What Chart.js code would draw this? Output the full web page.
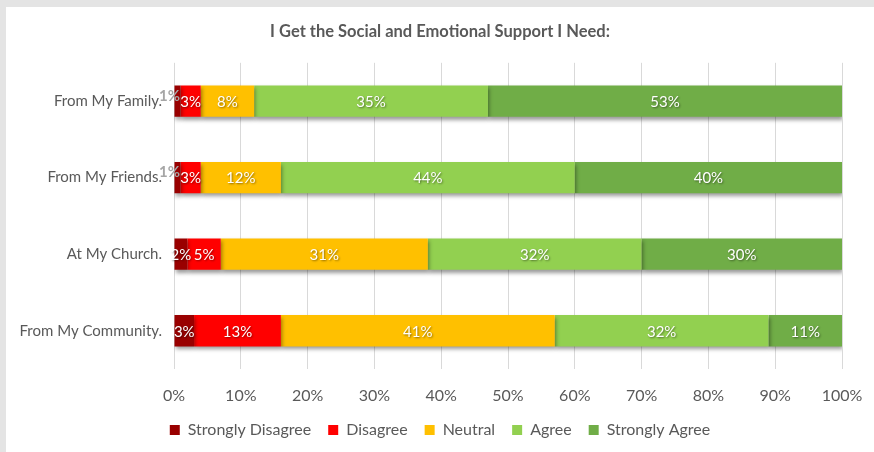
<!DOCTYPE html>
<html>
<head>
<meta charset="utf-8">
<script src="https://cdn.jsdelivr.net/npm/chart.js@4.4.1/dist/chart.umd.min.js"></script>
<style>
  html, body { margin: 0; padding: 0; background: #e4e4e4; }
  #wrap { position: absolute; left: 6px; top: 7px; width: 868px; height: 445px; background: #fff; }
</style>
</head>
<body>
<div id="wrap"><canvas id="myChart" width="868" height="445"></canvas></div>
<script>
const categories = ["From My Family.", "From My Friends.", "At My Church.", "From My Community."];
const stronglyDisagree = [1, 1, 2, 3];
const disagree = [3, 3, 5, 13];
const neutral = [8, 12, 31, 41];
const agree = [35, 44, 32, 32];
const stronglyAgree = [53, 40, 30, 11];
const xTicks = [0, 10, 20, 30, 40, 50, 60, 70, 80, 90, 100];

const FONT = "Lato, 'Open Sans', sans-serif";
const GREY = "#595959";

// soft drop shadow under the bars
const barShadow = {
  id: "barShadow",
  beforeDatasetsDraw(chart) {
    const c = chart.ctx;
    c.save();
    c.shadowColor = "rgba(0,0,0,0.4)";
    c.shadowBlur = 4;
    c.shadowOffsetX = 1;
    c.shadowOffsetY = 3;
  },
  afterDatasetsDraw(chart) {
    chart.ctx.restore();
  }
};

// percent labels on each segment
const valueLabels = {
  id: "valueLabels",
  afterDatasetsDraw(chart) {
    const c = chart.ctx;
    chart.data.datasets.forEach((ds, i) => {
      const meta = chart.getDatasetMeta(i);
      meta.data.forEach((bar, j) => {
        const v = ds.data[j];
        const p = bar.getProps(["x", "y", "base"], true);
        c.save();
        c.textBaseline = "middle";
        c.textAlign = "center";
        if (v < 2) {
          c.font = "bold 15px " + FONT;
          c.fillStyle = "#a6a6a6";
          c.fillText(v + "%", p.base - 5, p.y - 5);
        } else {
          c.font = "15px " + FONT;
          c.fillStyle = "#ffffff";
          c.shadowColor = "rgba(0,0,0,0.45)";
          c.shadowBlur = 2;
          c.shadowOffsetX = 1;
          c.shadowOffsetY = 1;
          c.fillText(v + "%", (p.x + p.base) / 2, p.y + 1);
        }
        c.restore();
      });
    });
  }
};

function series(label, data, color) {
  return {
    label: label,
    data: data,
    backgroundColor: color,
    borderWidth: 0,
    barPercentage: 0.41,
    categoryPercentage: 1
  };
}

const ctx = document.getElementById("myChart");

const myChart = new Chart(ctx, {
  type: "bar",
  plugins: [barShadow, valueLabels],
  data: {
    labels: categories,
    datasets: [
      series("Strongly Disagree", stronglyDisagree, "#990000"),
      series("Disagree", disagree, "#ff0000"),
      series("Neutral", neutral, "#ffc000"),
      series("Agree", agree, "#92d050"),
      series("Strongly Agree", stronglyAgree, "#70ad47")
    ]
  },
  options: {
    indexAxis: "y",
    responsive: false,
    animation: false,
    layout: { padding: { top: 6, right: 0, bottom: 4, left: 0 } },
    plugins: {
      title: {
        display: true,
        text: "I Get the Social and Emotional Support I Need:",
        color: GREY,
        font: { family: FONT, size: 16.5, weight: "bold" },
        padding: { top: 9, bottom: 21 }
      },
      legend: {
        display: true,
        position: "bottom",
        labels: {
          boxWidth: 10,
          boxHeight: 10,
          padding: 17,
          color: GREY,
          font: { family: FONT, size: 16 }
        }
      },
      tooltip: { enabled: false }
    },
    scales: {
      x: {
        stacked: true,
        min: 0,
        max: 100,
        afterBuildTicks(scale) {
          scale.ticks = xTicks.map(v => ({ value: v }));
        },
        afterFit(scale) {
          scale.height = 36;
          scale.paddingRight = 32;
        },
        grid: { color: "#d9d9d9", drawTicks: false },
        border: { display: false },
        ticks: {
          padding: 17,
          color: GREY,
          font: { family: FONT, size: 16 },
          callback: v => v + "%"
        }
      },
      y: {
        stacked: true,
        afterFit(scale) {
          scale.width = 168;
        },
        grid: { display: false },
        border: { display: false },
        ticks: {
          padding: 4,
          color: GREY,
          font: { family: FONT, size: 15 }
        }
      }
    }
  }
});
</script>
</body>
</html>
